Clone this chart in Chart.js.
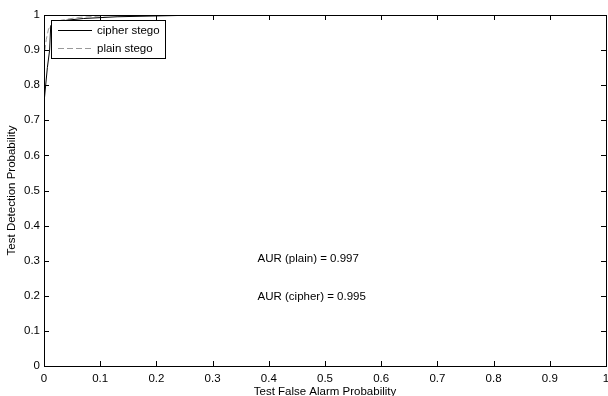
<!DOCTYPE html>
<html>
<head>
<meta charset="utf-8">
<script src="https://cdn.jsdelivr.net/npm/chart.js@4.4.1/dist/chart.umd.min.js"></script>
<style>
  html, body { margin: 0; padding: 0; background: #fff; }
  #wrap { width: 608px; height: 396px; }
</style>
</head>
<body>
<div id="wrap"><canvas id="roc" width="608" height="396"></canvas></div>
<script>
// ROC curves (false alarm, detection)
const cipherFa = [0, 0, 0.003, 0.006, 0.01, 0.012, 0.02, 0.04, 0.07, 0.13, 0.28, 1];
const cipherPd = [0, 0.75, 0.8, 0.85, 0.9, 0.97, 0.98, 0.985, 0.99, 0.995, 1, 1];
const plainFa = [0, 0, 0.004, 0.008, 0.015, 0.03, 0.06, 0.13, 1];
const plainPd = [0, 0.88, 0.93, 0.96, 0.975, 0.985, 0.993, 1, 1];

const tickVals = [0, 0.1, 0.2, 0.3, 0.4, 0.5, 0.6, 0.7, 0.8, 0.9, 1];
const seriesNames = ['cipher stego', 'plain stego'];
const notes = [
    { x: 0.38, y: 0.306, text: 'AUR (plain) = 0.997' },
    { x: 0.38, y: 0.197, text: 'AUR (cipher) = 0.995' }
];

const FONT = '"Liberation Sans", Arial, sans-serif';
const toPts = (xs, ys) => xs.map((x, i) => ({ x: x, y: ys[i] }));

// matlab style box, inward ticks, legend and text notes
const matlabBox = {
    id: 'matlabBox',
    afterDraw(chart) {
        const { ctx, chartArea: a, scales: { x, y } } = chart;
        ctx.save();
        ctx.strokeStyle = '#000';
        ctx.lineWidth = 1;
        ctx.strokeRect(a.left + 0.5, a.top + 0.5, a.right - a.left, a.bottom - a.top);
        ctx.beginPath();
        tickVals.forEach(v => {
            const px = Math.round(x.getPixelForValue(v)) + 0.5;
            ctx.moveTo(px, a.bottom); ctx.lineTo(px, a.bottom - 5);
            ctx.moveTo(px, a.top); ctx.lineTo(px, a.top + 5);
            const py = Math.round(y.getPixelForValue(v)) + 0.5;
            ctx.moveTo(a.left, py); ctx.lineTo(a.left + 5, py);
            ctx.moveTo(a.right, py); ctx.lineTo(a.right - 5, py);
        });
        ctx.stroke();

        // legend
        const lx = 51, ly = 20, lw = 114, lh = 38;
        ctx.fillStyle = '#fff';
        ctx.fillRect(lx, ly, lw, lh);
        ctx.strokeRect(lx + 0.5, ly + 0.5, lw, lh);
        ctx.font = '11.5px ' + FONT;
        ctx.textBaseline = 'middle';
        ctx.fillStyle = '#000';
        const rows = [
            { name: seriesNames[0], color: '#000', dash: [] },
            { name: seriesNames[1], color: '#999', dash: [6, 3] }
        ];
        rows.forEach((r, i) => {
            const ry = ly + 10.5 + i * 18;
            ctx.strokeStyle = r.color;
            ctx.setLineDash(r.dash);
            ctx.beginPath();
            ctx.moveTo(lx + 7, ry); ctx.lineTo(lx + 41, ry);
            ctx.stroke();
            ctx.fillText(r.name, lx + 46, ry);
        });
        ctx.setLineDash([]);

        notes.forEach(n => {
            ctx.fillText(n.text, x.getPixelForValue(n.x), y.getPixelForValue(n.y));
        });
        ctx.restore();
    }
};

new Chart(document.getElementById('roc'), {
    type: 'scatter',
    data: {
        datasets: [{
            label: seriesNames[0],
            data: toPts(cipherFa, cipherPd),
            showLine: true,
            borderColor: '#000',
            borderWidth: 1,
            pointRadius: 0,
            tension: 0
        }, {
            label: seriesNames[1],
            data: toPts(plainFa, plainPd),
            showLine: true,
            borderColor: '#999',
            borderDash: [6, 3],
            borderWidth: 1,
            pointRadius: 0,
            tension: 0
        }]
    },
    options: {
        responsive: false,
        animation: false,
        devicePixelRatio: 1,
        layout: { padding: { top: 15, right: 2, left: 0, bottom: 0 } },
        plugins: { legend: { display: false }, tooltip: { enabled: false } },
        scales: {
            x: {
                type: 'linear', min: 0, max: 1,
                afterBuildTicks: s => { s.ticks = tickVals.map(v => ({ value: v })); },
                afterFit: s => { s.height = 30; s.paddingLeft = 0; s.paddingRight = 0; },
                grid: { display: false, drawTicks: false },
                border: { display: false },
                ticks: { color: '#000', padding: 6, maxRotation: 0, font: { family: FONT, size: 11.5 },
                    callback: v => String(v) },
                title: { display: true, text: 'Test False Alarm Probability', color: '#000',
                    padding: { top: 0, bottom: -3 }, font: { family: FONT, size: 11.5 } }
            },
            y: {
                type: 'linear', min: 0, max: 1,
                afterBuildTicks: s => { s.ticks = tickVals.map(v => ({ value: v })); },
                afterFit: s => { s.width = 44; s.paddingTop = 0; s.paddingBottom = 0; },
                grid: { display: false, drawTicks: false },
                border: { display: false },
                ticks: { color: '#000', padding: 4, font: { family: FONT, size: 11.5 },
                    callback: v => String(v) },
                title: { display: true, text: 'Test Detection Probability', color: '#000',
                    padding: { top: 5, bottom: 0 }, font: { family: FONT, size: 11.5 } }
            }
        }
    },
    plugins: [matlabBox]
});
</script>
</body>
</html>
